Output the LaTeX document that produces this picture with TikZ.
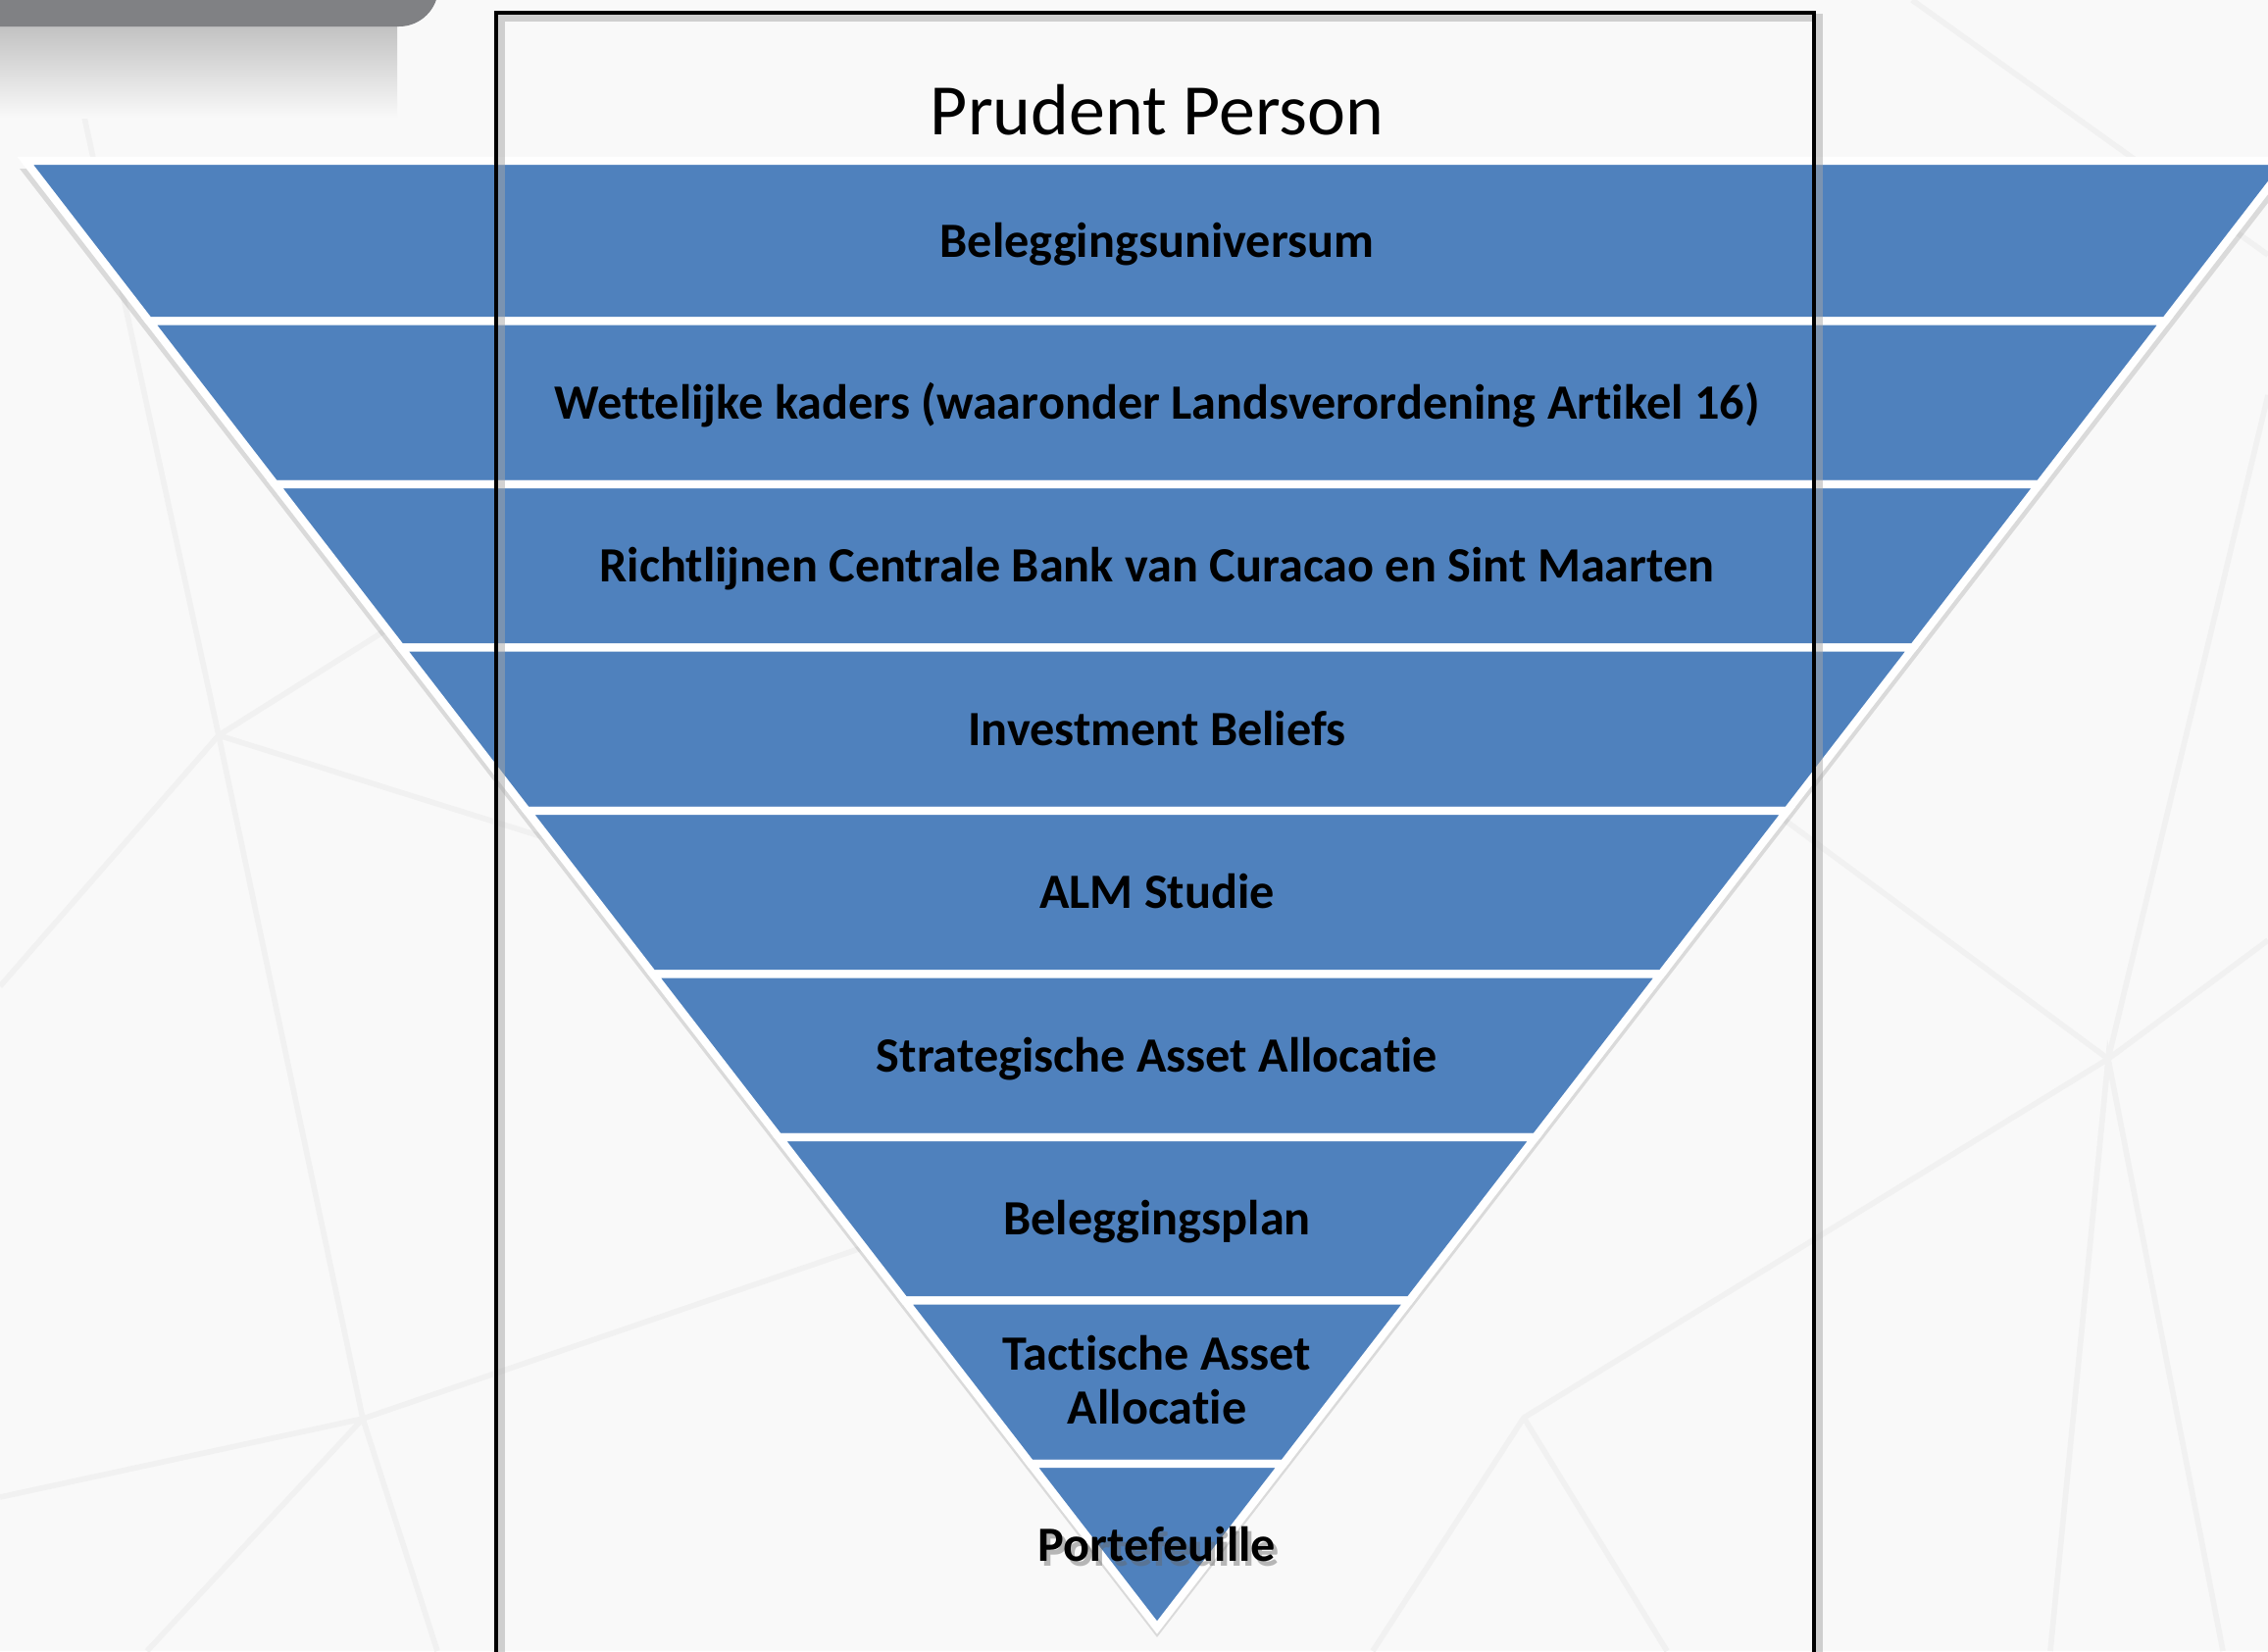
\documentclass[tikz,border=0pt]{standalone}
\usepackage{fontspec}
\setmainfont{Carlito}[Ligatures=CommonOff]
\definecolor{bgcol}{RGB}{249,249,249}
\definecolor{bandblue}{RGB}{79,129,189}
\definecolor{bargray}{RGB}{128,129,132}
\definecolor{bgline}{RGB}{241,241,241}
\tikzset{
  band/.style={fill=bandblue, draw=white, line width=2.3pt, line join=miter},
  bandtext/.style={anchor=base, font=\fontsize{14.3}{15.6}\selectfont\bfseries, text=black, inner sep=0pt, align=center},
  titletext/.style={anchor=base, font=\fontsize{21}{25}\selectfont, text=black, inner sep=0pt},
  frameline/.style={draw=black, line width=1.3pt},
  bgstroke/.style={draw=bgline, line width=1.6pt}
}
\begin{document}
\begin{tikzpicture}[x=0.01cm, y=-0.01cm]
\useasboundingbox (0,0) rectangle (2313,1684);
\clip (0,0) rectangle (2313,1684);
% background
\fill[bgcol] (0,0) rectangle (2313,1684);
% faint background lines
\coordinate (sA) at (223,750);
\coordinate (sB) at (370,1447);
\coordinate (sC) at (2150,1080);
\coordinate (sD) at (1554,1446);
\draw[bgstroke] (60,0) -- (sA) -- (sB) -- (446,1684);
\draw[bgstroke] (0,1006) -- (sA) -- (700,450);
\draw[bgstroke] (sA) -- (1180,1050);
\draw[bgstroke] (0,1527) -- (sB) -- (1150,1180);
\draw[bgstroke] (sB) -- (150,1684);
\draw[bgstroke] (1500,600) -- (sC) -- (2313,959);
\draw[bgstroke] (2091,1684) -- (sC) -- (2267,1684);
\draw[bgstroke] (2313,403) -- (sC) -- (sD) -- (1400,1684);
\draw[bgstroke] (sD) -- (1700,1684);
\draw[bgstroke] (1950,0) -- (2313,260);
% top-left grey bar and its fading shadow
\shade[top color=black!24, bottom color=bgcol] (0,27) rectangle (405,120);
\fill[bargray, rounded corners=0.4cm] (-60,-60) rectangle (447,27);
% triangle shadow
\fill[black, opacity=0.12] (20,172) -- (2340,172) -- (1180,1670) -- cycle;
% bands
\foreach \ya/\yb in {164/327.5, 327.5/494, 494/660.5, 660.5/827, 827/993.5, 993.5/1160, 1160/1326.5, 1326.5/1493}{
  \path[band] ({1180-0.7715*(1660-\ya)},\ya) -- ({1180+0.7715*(1660-\ya)},\ya)
     -- ({1180+0.7715*(1660-\yb)},\yb) -- ({1180-0.7715*(1660-\yb)},\yb) -- cycle;
}
\path[band] ({1180-0.7715*167},1493) -- ({1180+0.7715*167},1493) -- (1180,1660) -- cycle;
% frame with soft shadow
\draw[black!35, opacity=0.5, line width=2.2pt] (511,1750) -- (511,18) -- (1855,18) -- (1855,1750);
\draw[frameline] (506,1750) -- (506,13) -- (1850,13) -- (1850,1750);
% texts
\node[titletext] (title) at (1180,137) {Prudent Person};
\node[bandtext] (t1) at (1180,262) {Beleggingsuniversum};
\node[bandtext] (t2) at (1180,427) {Wettelijke kaders (waaronder Landsverordening Artikel 16)};
\node[bandtext] (t3) at (1180,593) {Richtlijnen Centrale Bank van Curacao en Sint Maarten};
\node[bandtext] (t4) at (1180,760) {Investment Beliefs};
\node[bandtext] (t5) at (1180,926) {ALM Studie};
\node[bandtext] (t6) at (1180,1093) {Strategische Asset Allocatie};
\node[bandtext] (t7) at (1180,1259) {Beleggingsplan};
\node[bandtext] (t8) at (1180,1452) {Tactische Asset\\Allocatie};
\node[bandtext, text=black!60, opacity=0.45] (t9s) at (1184,1597) {Portefeuille};
\node[bandtext] (t9) at (1180,1592) {Portefeuille};
\end{tikzpicture}
\end{document}
